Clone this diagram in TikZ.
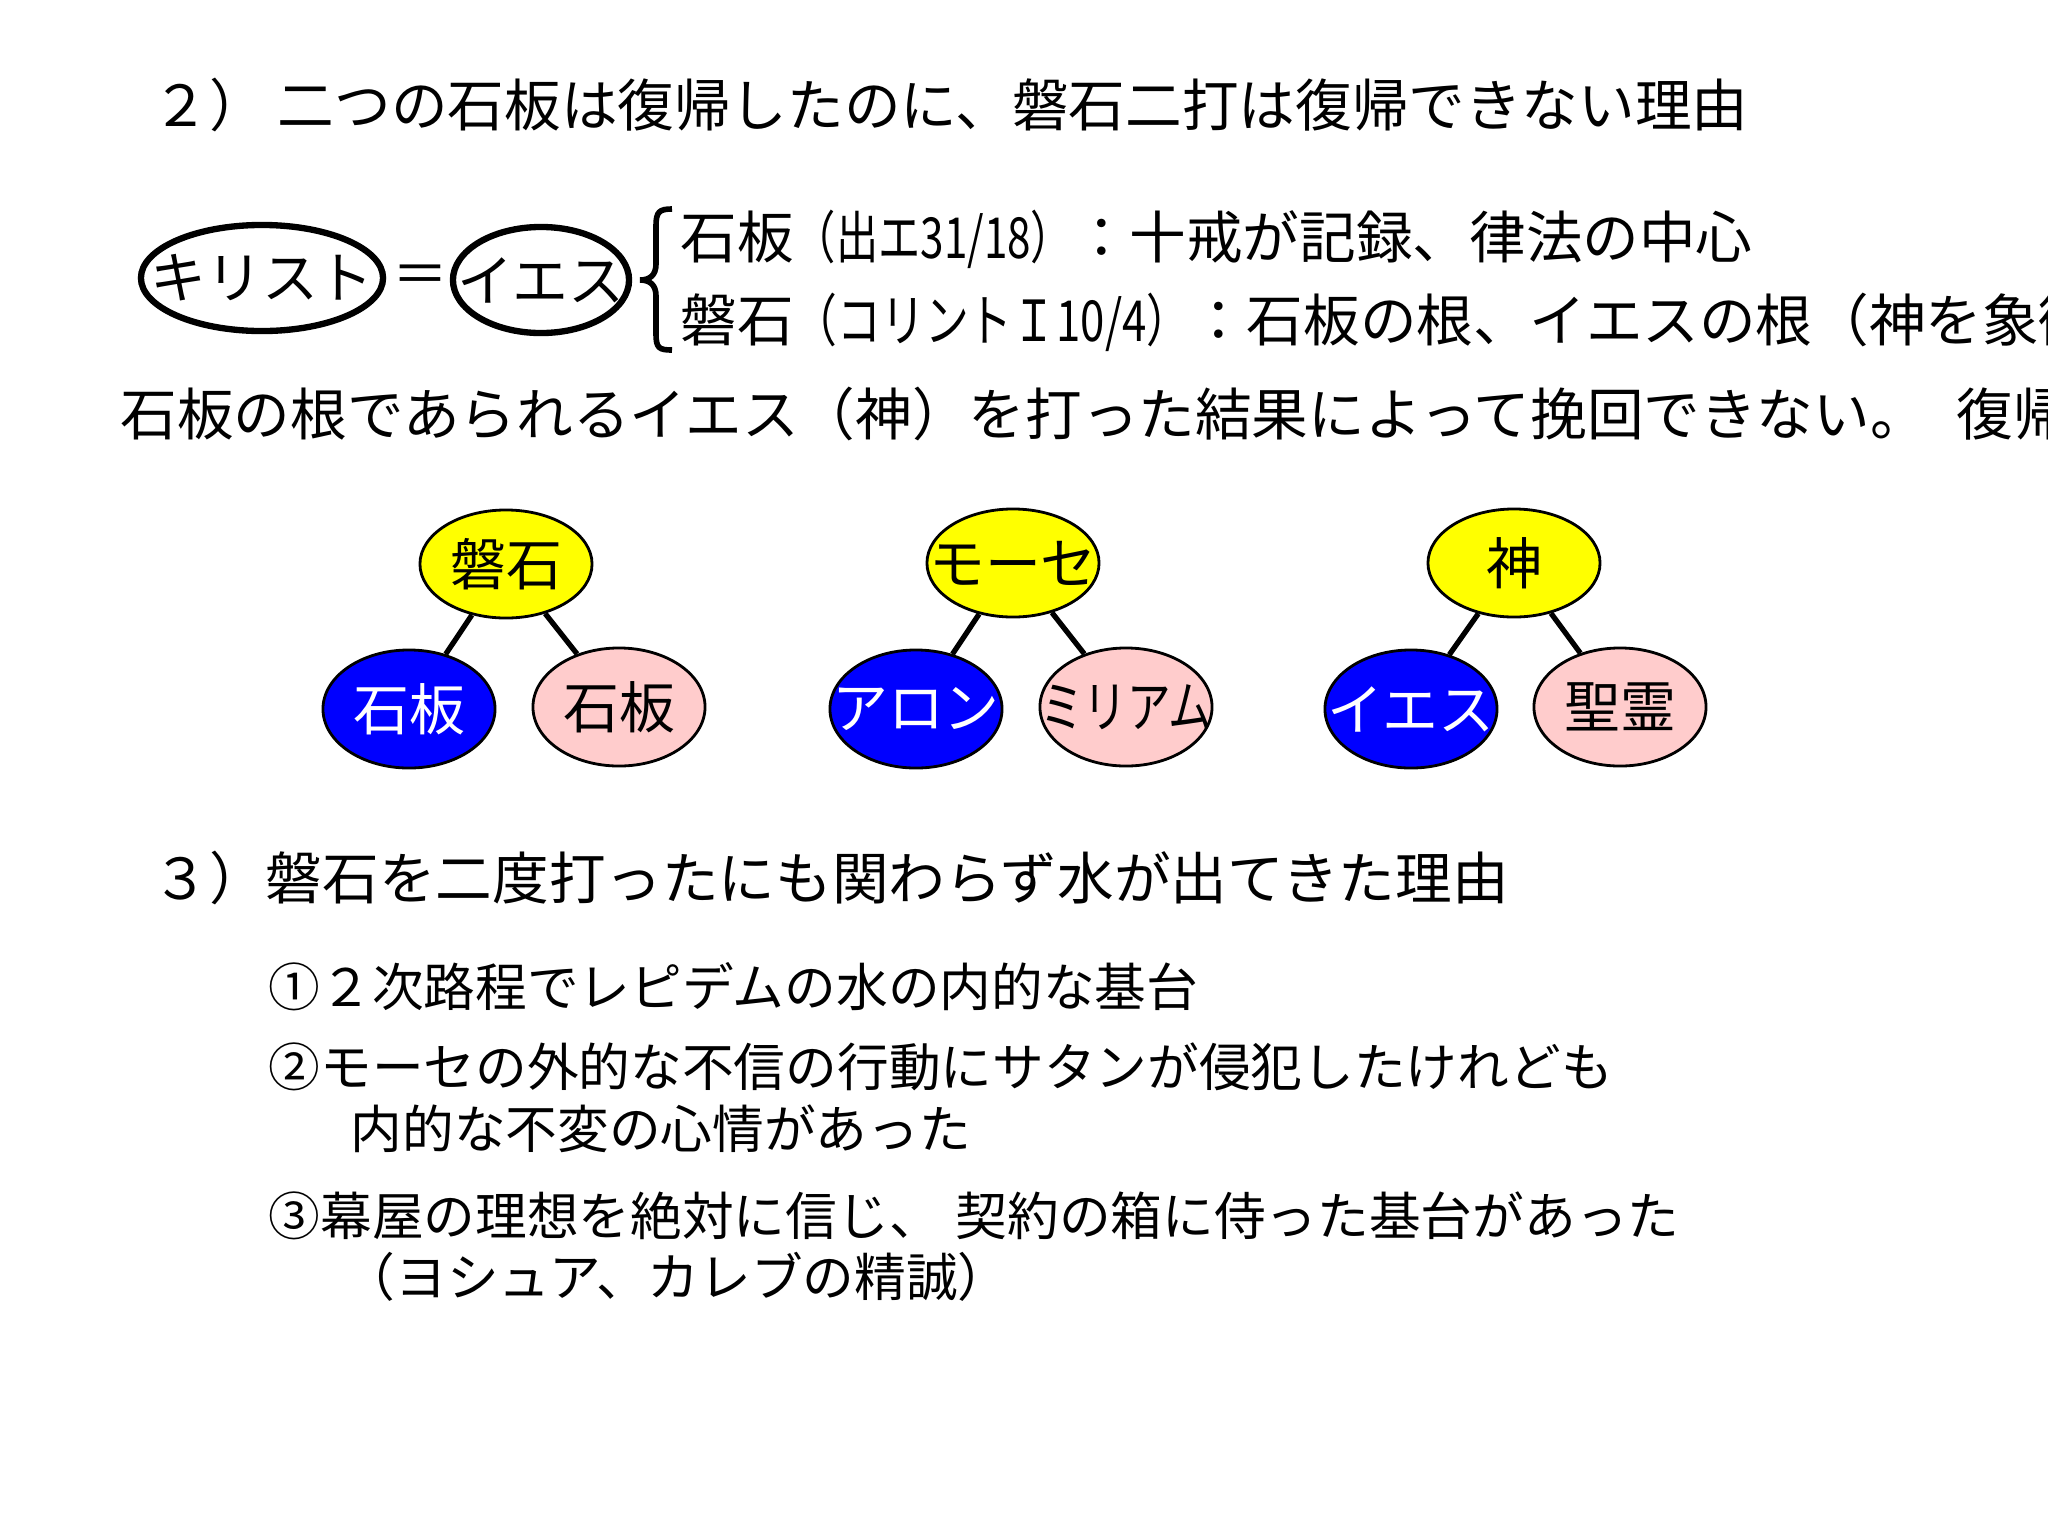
\documentclass[tikz,border=0pt]{standalone}
\usepackage{fontspec}
\usepackage{graphicx}
\setmainfont{Noto Sans CJK JP}
\usetikzlibrary{shapes.geometric}
\definecolor{nodeyellow}{RGB}{255,255,0}
\definecolor{nodeblue}{RGB}{0,0,255}
\definecolor{nodepink}{RGB}{255,204,204}
\newcommand{\jpbig}{\fontsize{16.1pt}{19pt}\selectfont}
\newcommand{\jpnode}{\fontsize{15.9pt}{19pt}\selectfont}
\newcommand{\jpsmall}{\fontsize{14.7pt}{18pt}\selectfont}
\begin{document}
\begin{tikzpicture}[x=0.01cm,y=-0.01cm,
  txt/.style={anchor=west, inner sep=0pt, font=\jpbig},
  itm/.style={anchor=west, inner sep=0pt, font=\jpsmall},
  oval/.style={ellipse, draw=black, line width=1.8pt, minimum height=1.06cm, inner sep=0pt, font=\jpnode},
  tnode/.style={ellipse, draw=black, line width=0.8pt, minimum width=1.72cm, inner sep=0pt, font=\jpnode},
  topn/.style={tnode, fill=nodeyellow, minimum height=1.08cm},
  leftn/.style={tnode, fill=nodeblue, text=white, minimum height=1.18cm},
  rightn/.style={tnode, fill=nodepink, minimum height=1.18cm},
  link/.style={line width=1.5pt, draw=black}]
\clip (0,0) rectangle (2048,1536);
\fill[white] (0,0) rectangle (2048,1536);

% section 2 title
\node[txt] (title2) at (152,105) {２）\hspace{0.12cm}二つの石板は復帰したのに、磐石二打は復帰できない理由};

% Christ = Jesus
\node[oval, minimum width=2.42cm] (christ) at (262,278) {\makebox[0pt]{キリスト}};
\node[inner sep=0pt, font=\jpnode] (eq) at (420,280) {＝};
\node[oval, minimum width=1.76cm] (jesus) at (541,280) {\makebox[0pt]{イエス}};

% brace
\draw[line width=1.6pt] (672,209) .. controls (659,209) and (656,212) .. (656,226)
  -- (656,264) .. controls (656,275) and (650,280) .. (640,280)
  .. controls (650,280) and (656,285) .. (656,296)
  -- (656,334) .. controls (656,348) and (659,350) .. (672,350);

\node[txt] (line1) at (680,239) {石板\resizebox{2.79cm}{\height}{（出エ31/18）}：十戒が記録、律法の中心};
\node[txt] (line2) at (680,322) {磐石\resizebox{3.96cm}{\height}{（コリントＩ10/4）}：石板の根、イエスの根（神を象徴};
\node[txt] (line3) at (120,414) {石板の根であられるイエス（神）を打った結果によって挽回できない。\hspace{0.3cm}復帰};

% trees
\node[topn] (t1) at (506,564) {\makebox[0pt]{磐石}};
\node[leftn] (t1l) at (409,709) {\makebox[0pt]{石板}};
\node[rightn] (t1r) at (619,707) {\makebox[0pt]{石板}};
\draw[link] (t1) -- (t1l);
\draw[link] (t1) -- (t1r);

\node[topn] (t2) at (1013,563) {\makebox[0pt]{モーセ}};
\node[leftn] (t2l) at (916,709) {\makebox[0pt]{アロン}};
\node[rightn] (t2r) at (1126,707) {\makebox[0pt]{\scalebox{0.78}[1]{ミリアム}}};
\draw[link] (t2) -- (t2l);
\draw[link] (t2) -- (t2r);

\node[topn] (t3) at (1514,563) {\makebox[0pt]{神}};
\node[leftn] (t3l) at (1411,709) {\makebox[0pt]{イエス}};
\node[rightn] (t3r) at (1620,707) {\makebox[0pt]{聖霊}};
\draw[link] (t3) -- (t3l);
\draw[link] (t3) -- (t3r);

% section 3
\node[txt] (title3) at (152,878) {３）磐石を二度打ったにも関わらず水が出てきた理由};
\node[itm] (item1) at (268,987) {①２次路程でレピデムの水の内的な基台};
\node[itm] (item2a) at (268,1067) {②モーセの外的な不信の行動にサタンが侵犯したけれども};
\node[itm] (item2b) at (350,1129) {内的な不変の心情があった};
\node[itm] (item3a) at (268,1216) {③幕屋の理想を絶対に信じ、\hspace{0.15cm}契約の箱に侍った基台があった};
\node[itm] (item3b) at (343,1277) {（ヨシュア、カレブの精誠）};
\end{tikzpicture}
\end{document}
